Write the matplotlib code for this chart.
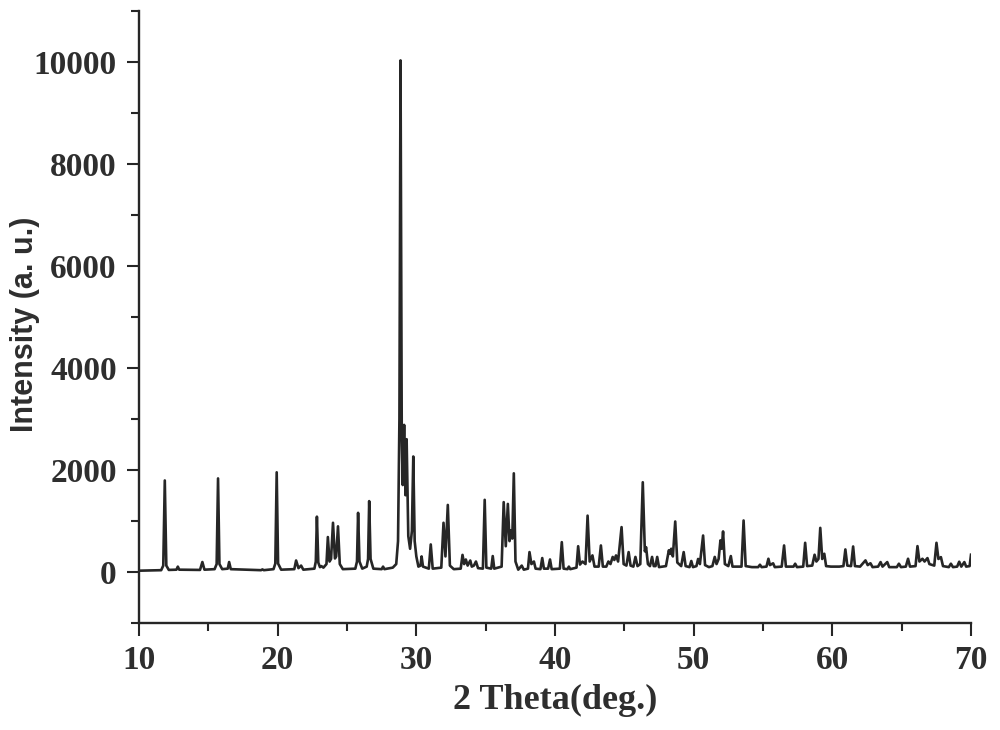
import matplotlib
matplotlib.use("Agg")
import matplotlib.pyplot as plt
from matplotlib.ticker import MultipleLocator

# Trace of the XRD pattern: 2-theta (deg.) and intensity (a. u.)
two_theta = [
    10.0, 11.6, 11.75, 11.86, 11.97, 12.15, 12.7, 12.8, 12.9, 14.4, 14.57, 14.72,
    15.45, 15.6, 15.70, 15.8, 16.0, 16.4, 16.5, 16.62, 18.8, 18.9, 19.0,
    19.7, 19.83, 19.93, 20.03, 20.25, 21.2, 21.33, 21.5, 21.69, 21.85,
    22.65, 22.75, 22.83, 22.93, 23.05, 23.15, 23.3, 23.52, 23.62, 23.74, 23.85,
    23.99, 24.13, 24.22, 24.35, 24.48, 24.7, 25.6, 25.72, 25.8, 25.9, 26.1,
    26.42, 26.52, 26.6, 26.7, 26.9, 27.5, 27.6, 27.7, 28.3,
    28.55, 28.68, 28.78, 28.86, 28.95, 29.02, 29.12, 29.22, 29.3, 29.42, 29.55,
    29.68, 29.78, 29.88, 30.0, 30.15, 30.3, 30.38, 30.48,
    30.9, 31.04, 31.18, 31.8, 31.96, 32.1, 32.27, 32.42, 32.7, 33.2, 33.33, 33.45,
    33.57, 33.7, 33.89, 34.0, 34.15, 34.3, 34.45, 34.8, 34.93, 35.05, 35.4, 35.51,
    35.62, 36.15, 36.3, 36.45, 36.6, 36.72, 36.82, 36.92, 37.03, 37.15, 37.35,
    37.6, 37.75, 38.05, 38.16, 38.3, 38.48, 38.6, 38.95, 39.08, 39.2, 39.5, 39.64,
    39.76, 40.35, 40.49, 40.62, 40.9, 41.0, 41.1, 41.55, 41.67, 41.8, 41.98, 42.2,
    42.35, 42.5, 42.7, 42.85, 43.15, 43.31, 43.45, 43.7, 43.85, 44.0, 44.16, 44.28,
    44.4, 44.55, 44.8, 44.95, 45.15, 45.31, 45.45, 45.65, 45.8, 45.95, 46.15, 46.33,
    46.48, 46.57, 46.7, 46.85, 47.0, 47.12, 47.25, 47.37, 47.5, 48.0, 48.21, 48.3,
    48.38, 48.5, 48.67, 48.82, 49.1, 49.28, 49.42, 49.7, 49.83, 49.95, 50.2, 50.32,
    50.45, 50.68, 50.82, 51.1, 51.35, 51.52, 51.65, 51.8, 51.93, 52.02, 52.12, 52.25,
    52.5, 52.68, 52.8, 53.45, 53.6, 53.75, 54.2, 54.65, 54.78, 54.9, 55.25, 55.39,
    55.5, 55.73, 55.85, 56.35, 56.52, 56.65, 57.2, 57.32, 57.45, 57.9, 58.04, 58.18,
    58.55, 58.72, 58.85, 59.0, 59.13, 59.27, 59.42, 59.55, 59.9, 60.5, 60.8, 60.94,
    61.08, 61.35, 61.5, 61.63, 62.0, 62.39, 62.55, 62.75, 62.9, 63.3, 63.48, 63.62,
    63.96, 64.1, 64.65, 64.8, 64.95, 65.3, 65.46, 65.6, 66.0, 66.14, 66.28, 66.5,
    66.65, 66.86, 67.0, 67.35, 67.51, 67.65, 67.83, 67.98, 68.4, 68.55, 68.7, 69.0,
    69.15, 69.3, 69.52, 69.65, 69.9, 70.0,
]
intensity = [
    20, 30, 120, 1790, 120, 35, 40, 100, 40, 35, 190, 40,
    50, 150, 1830, 150, 50, 60, 190, 50, 30, 45, 30,
    50, 160, 1950, 160, 40, 50, 220, 70, 120, 40,
    60, 200, 1080, 180, 90, 110, 80, 150, 680, 200, 250,
    960, 260, 300, 890, 150, 50, 60, 200, 1155, 200, 60,
    100, 250, 1385, 250, 60, 50, 100, 50, 80,
    150, 600, 3000, 10030, 2600, 1700, 2880, 1500, 2600, 700, 450,
    800, 2260, 600, 300, 100, 120, 300, 100,
    60, 535, 60, 80, 960, 300, 1310, 120, 50, 60, 330, 150,
    240, 120, 220, 100, 120, 200, 70, 60, 1410, 80, 60, 307,
    60, 100, 1365, 500, 1330, 600, 810, 650, 1930, 200, 40,
    120, 40, 60, 385, 150, 200, 60, 50, 268, 60, 60, 240,
    50, 60, 580, 60, 50, 100, 50, 80, 500, 140, 200, 150,
    1100, 200, 320, 100, 100, 515, 100, 100, 200, 150, 290, 230,
    320, 200, 875, 150, 120, 385, 120, 100, 290, 110, 150, 1755,
    400, 480, 150, 110, 290, 110, 110, 290, 90, 110, 420, 350,
    450, 300, 985, 180, 110, 385, 110, 90, 210, 90, 110, 250,
    150, 710, 130, 90, 110, 290, 150, 250, 615, 450, 790, 150,
    110, 307, 100, 100, 1005, 110, 90, 90, 137, 90, 100, 254,
    130, 165, 90, 100, 515, 100, 100, 157, 90, 100, 567, 110,
    120, 333, 200, 250, 860, 250, 352, 110, 100, 100, 110, 437,
    120, 110, 495, 110, 100, 222, 130, 166, 90, 100, 189, 100,
    189, 90, 90, 157, 90, 100, 254, 100, 110, 502, 200, 254,
    200, 267, 150, 120, 567, 250, 286, 110, 90, 157, 90, 100,
    196, 100, 189, 100, 110, 333,
]

x_ticks = [10, 20, 30, 40, 50, 60, 70]
y_ticks = [0, 2000, 4000, 6000, 8000, 10000]

fig = plt.figure(figsize=(10, 7.3), dpi=100)
ax = fig.add_axes([0.139, 0.147, 0.832, 0.838])

ax.plot(two_theta, intensity, color="#262626", linewidth=1.9, solid_joinstyle="round")

ax.set_xlim(10, 70)
ax.set_ylim(-1000, 11000)
ax.set_xticks(x_ticks)
ax.set_yticks(y_ticks)
ax.xaxis.set_minor_locator(MultipleLocator(5))
ax.yaxis.set_minor_locator(MultipleLocator(1000))

for s in ["top", "right"]:
    ax.spines[s].set_visible(False)
for s in ["left", "bottom"]:
    ax.spines[s].set_linewidth(1.7)
    ax.spines[s].set_color("#262626")

ax.tick_params(axis="both", which="major", direction="out", length=9, width=1.5,
               color="#262626", pad=7)
ax.tick_params(axis="both", which="minor", direction="out", length=6, width=1.5,
               color="#262626")

for lab in ax.get_xticklabels() + ax.get_yticklabels():
    lab.set_fontfamily("Liberation Serif")
    lab.set_fontweight("bold")
    lab.set_fontsize(24)
    lab.set_color("#2e2e2e")

ax.set_xlabel("2 Theta(deg.)", fontfamily="Liberation Serif", fontweight="bold",
              fontsize=26, color="#2e2e2e", labelpad=6)
ax.set_ylabel("Intensity (a. u.)", fontfamily="Liberation Sans", fontweight="bold",
              fontsize=22, color="#2e2e2e")
ax.yaxis.set_label_coords(-0.119, 0.487)

fig.savefig("out.png", dpi=100, facecolor="white")
